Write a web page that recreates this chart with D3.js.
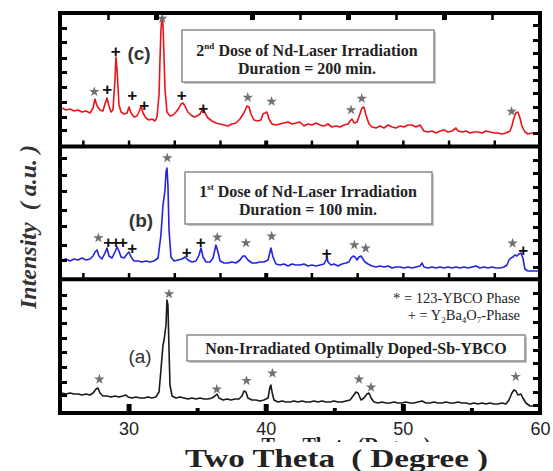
<!DOCTYPE html>
<html><head><meta charset="utf-8">
<script src="https://cdn.jsdelivr.net/npm/d3@7"></script>
<style>html,body{margin:0;padding:0;background:#fff;}svg{display:block;}</style>
</head><body>
<svg id="c" width="553" height="471"></svg>
<script>
// ---------- DATA ----------
const xTicks = [30, 40, 50, 60];
const xMinorTicks = [35, 45, 55];

// (c) 2nd dose, 200 min (red)
const redTheta = [25.15,25.44,25.73,26.02,26.31,26.60,26.90,27.19,27.41,27.55,27.70,27.92,28.13,28.28,28.43,28.57,28.72,28.86,29.01,29.08,29.16,29.30,29.45,29.67,29.89,30.03,30.18,30.40,30.61,30.76,30.91,31.05,31.27,31.49,31.71,31.93,32.07,32.22,32.29,32.36,32.44,32.51,32.58,32.66,32.80,33.02,33.24,33.46,33.68,33.82,33.97,34.11,34.33,34.55,34.77,34.99,35.21,35.43,35.57,35.79,36.08,36.37,36.67,36.96,37.25,37.54,37.83,38.12,38.41,38.63,38.78,38.92,39.14,39.43,39.65,39.80,39.95,40.09,40.24,40.46,40.75,41.04,41.33,41.63,41.92,42.21,42.50,42.79,43.08,43.37,43.67,43.96,44.25,44.54,44.83,45.12,45.42,45.71,46.00,46.15,46.29,46.44,46.66,46.87,47.02,47.16,47.31,47.53,47.75,48.04,48.33,48.62,48.92,49.21,49.50,49.79,50.08,50.37,50.66,50.96,51.25,51.54,51.83,52.12,52.41,52.71,53.00,53.29,53.58,53.87,54.02,54.31,54.60,54.89,55.18,55.48,55.77,56.06,56.35,56.64,56.93,57.23,57.52,57.81,57.95,58.10,58.24,58.39,58.54,58.68,58.90,59.12,59.41,59.71,60.00];
const redI = [38.5,36.5,37.5,35.5,36.5,34.5,35.5,33.5,38.5,47.5,40.5,36.5,35.5,42.5,48.5,40.5,34.5,36.5,66.5,89.5,76.5,41.5,34.5,32.5,33.5,39.5,33.5,29.5,30.5,34.5,40.5,33.5,28.5,26.5,27.5,25.5,29.5,51.5,86.5,116.5,129.5,121.5,91.5,56.5,34.5,30.5,31.5,34.5,38.5,42.5,43.5,40.5,34.5,31.5,29.5,30.5,32.5,38.5,33.5,28.5,25.5,23.5,22.5,21.5,20.5,22.5,23.5,27.5,33.5,40.5,39.5,32.5,26.5,25.5,26.5,32.5,33.5,34.5,27.5,22.5,21.5,22.5,23.5,24.5,22.5,23.5,24.5,20.5,22.5,21.5,23.5,21.5,20.5,22.5,19.5,20.5,19.5,21.5,22.5,25.5,27.5,23.5,24.5,32.5,38.5,39.5,31.5,22.5,19.5,18.5,20.5,18.5,21.5,19.5,18.5,20.5,19.5,21.5,21.5,19.5,21.5,15.5,14.5,15.5,13.5,15.5,16.5,14.5,15.5,18.5,15.5,14.5,15.5,13.5,14.5,14.5,13.5,15.5,14.5,13.5,13.5,12.5,13.5,15.5,20.5,28.5,33.5,34.5,28.5,20.5,14.5,12.5,13.5,12.5,13.5];

// (b) 1st dose, 100 min (blue)
const blueTheta = [25.15,25.44,25.73,26.02,26.31,26.60,26.90,27.19,27.41,27.55,27.70,27.84,28.06,28.28,28.43,28.57,28.79,29.01,29.16,29.30,29.45,29.67,29.89,30.03,30.18,30.40,30.69,30.98,31.27,31.56,31.85,32.15,32.36,32.51,32.58,32.66,32.73,32.80,32.87,32.95,33.09,33.31,33.60,33.90,34.11,34.33,34.62,34.92,35.14,35.28,35.43,35.65,35.94,36.16,36.37,36.52,36.67,36.96,37.25,37.54,37.83,38.12,38.34,38.48,38.70,39.00,39.29,39.58,39.87,40.17,40.31,40.38,40.53,40.75,41.04,41.33,41.63,41.92,42.21,42.50,42.79,43.08,43.37,43.67,43.96,44.25,44.40,44.47,44.54,44.76,44.98,45.27,45.56,45.85,46.07,46.22,46.37,46.51,46.66,46.80,46.95,47.09,47.24,47.46,47.75,48.04,48.33,48.62,48.92,49.21,49.50,49.79,50.08,50.37,50.66,50.96,51.25,51.40,51.54,51.83,52.12,52.41,52.71,53.00,53.29,53.58,53.87,54.17,54.46,54.75,55.04,55.33,55.62,55.92,56.21,56.50,56.79,57.08,57.37,57.59,57.74,57.88,58.03,58.17,58.32,58.46,58.61,58.75,58.90,59.12,59.41,59.71,60.00];
const blueI = [19,20,18,20,19,21,19,20,23,27,29,23,20,26,31,23,21,27,32,28,22,21,25,27,22,18,18,17,18,17,18,21,44,74,81,89,107,111,94,49,22,18,19,20,22,19,17,18,24,31,22,17,17,21,34,27,18,16,16,17,16,19,23,23,19,16,16,17,17,19,27,31,22,15,14,15,13,15,14,14,15,13,14,13,14,15,19,22,17,14,15,13,15,16,17,21,23,22,19,22,23,20,17,15,13,12,13,12,13,11,12,12,11,12,11,12,13,16,12,11,12,11,12,11,12,11,12,11,12,11,12,13,11,12,11,12,11,11,12,14,19,21,22,24,23,25,26,21,10,8,8,8,8];

// (a) non-irradiated (black)
const blackTheta = [25.15,25.44,25.73,26.02,26.31,26.60,26.90,27.19,27.41,27.63,27.77,27.92,28.13,28.43,28.72,29.01,29.30,29.59,29.81,29.96,30.25,30.54,30.83,31.12,31.42,31.71,31.99,32.22,32.36,32.51,32.58,32.73,32.80,32.87,32.95,33.02,33.17,33.46,33.75,34.04,34.33,34.62,34.92,35.21,35.50,35.79,36.08,36.30,36.45,36.59,36.89,37.18,37.47,37.76,38.05,38.27,38.41,38.56,38.70,39.00,39.29,39.58,39.87,40.17,40.31,40.38,40.46,40.60,40.90,41.19,41.48,41.77,42.06,42.35,42.65,42.94,43.23,43.52,43.81,44.10,44.40,44.69,44.98,45.27,45.56,45.85,46.15,46.37,46.58,46.73,46.95,47.16,47.38,47.53,47.68,47.90,48.19,48.48,48.77,49.06,49.35,49.65,49.94,50.23,50.52,50.81,51.10,51.40,51.69,51.98,52.27,52.56,52.85,53.15,53.44,53.73,54.02,54.31,54.60,54.89,55.18,55.48,55.77,56.06,56.35,56.64,56.93,57.23,57.52,57.74,57.95,58.10,58.24,58.39,58.61,58.75,58.97,59.27,59.63,60.00];
const blackI = [20,19,20,19,19,18,19,18,20,24,25,20,17,17,16,17,16,17,18,16,15,16,15,15,16,15,16,21,43,68,72,88,113,108,63,28,17,15,16,15,14,15,14,15,14,14,15,17,19,15,13,14,13,14,14,17,22,21,15,13,13,12,13,15,26,28,21,13,11,12,11,11,12,11,12,11,11,12,11,12,11,11,12,11,11,12,13,17,21,20,13,15,19,20,15,11,10,11,10,10,11,10,10,11,10,10,11,12,10,10,11,10,10,11,10,10,11,10,10,9,10,9,10,9,10,9,9,10,9,13,20,23,22,18,19,15,10,7,7,8];

// phase markers: [2theta, intensity]
const redStars  = [[27.5,54.8],[32.46,128],[38.69,49],[40.43,45],[46.22,36.5],[47.0,48],[57.93,35]];
const redPlus   = [[28.45,58],[29.06,96],[30.27,51.5],[31.15,41.5],[33.87,51.5],[35.45,39]];
const blueStars = [[27.8,41],[32.82,121],[36.47,41.7],[38.56,36],[40.43,42.7],[46.46,34],[47.29,30.7],[58.0,35.7]];
const bluePlus  = [[28.52,36.7],[29.08,36.7],[29.6,36.7],[30.27,31],[34.24,26.7],[35.26,36.7],[44.45,26.3],[58.78,29]];
const blackStars= [[27.87,33.7],[32.95,119],[36.43,23.7],[38.6,32.3],[40.49,39.7],[46.8,33.7],[47.68,25.7],[58.23,36.3]];
const blackPlus = [];

// frame tick positions (arbitrary units of each panel)
const topTopTicks = [28.5, 32, 39, 42.5, 46, 49.5, 53, 56.5];
const innerTicks = [80/3, 30, 100/3, 110/3, 40, 130/3, 140/3, 50, 160/3, 170/3];
const leftTicksC = [16.5, 29.5, 44.5, 59.5, 74.5, 88.5, 104.5, 118.5];
const rightTicksC = [13.5, 26.5, 39.5, 53.5, 66.5, 79.5, 93.5, 106.5, 121.5];
const leftTicksB = [19, 34, 53, 69, 88, 104, 121];
const rightTicksB = [12, 26, 39, 52, 66, 79, 92, 106, 119];
const leftTicksA = [18, 31, 46, 61, 75, 90, 105, 118];
const rightTicksA = [8, 21, 35, 50, 63, 76, 91, 105, 120];

// ---------- DRAW ----------
const svg = d3.select("#c");
const x = d3.scaleLinear().domain([25, 60]).range([60, 540]);
const panels = [
  {top: 13, bottom: 146.5, theta: redTheta, I: redI, color: "#e8131b", stars: redStars, plus: redPlus, lt: leftTicksC, rt: rightTicksC},
  {top: 146.5, bottom: 279, theta: blueTheta, I: blueI, color: "#2222e2", stars: blueStars, plus: bluePlus, lt: leftTicksB, rt: rightTicksB},
  {top: 279.5, bottom: 413, theta: blackTheta, I: blackI, color: "#1a1a1a", stars: blackStars, plus: blackPlus, lt: leftTicksA, rt: rightTicksA}
];

// ghost (old) axis title, mostly hidden
svg.append("defs").append("clipPath").attr("id","ghost")
  .append("rect").attr("x",0).attr("y",437).attr("width",553).attr("height",5);
svg.append("text").attr("clip-path","url(#ghost)")
  .attr("x", 346).attr("y", 452).attr("text-anchor","middle")
  .attr("font-family","Liberation Serif").attr("font-weight","bold").attr("font-size",20)
  .attr("fill","#222").text("Two Theta (Degree)");

panels.forEach(p => {
  const y = d3.scaleLinear().domain([0, p.bottom - p.top]).range([p.bottom, p.top]);
  const line = d3.line().x((d,i) => x(p.theta[i])).y((d,i) => y(p.I[i]));
  svg.append("path").datum(p.I).attr("d", line)
    .attr("fill","none").attr("stroke", p.color).attr("stroke-width", 1.6).attr("stroke-linejoin","round");
  svg.append("g").attr("transform", `translate(60,0)`)
    .call(d3.axisLeft(y).tickValues(p.lt).tickSize(-7).tickFormat(""))
    .call(g => g.select(".domain").remove())
    .selectAll("line").attr("stroke-width", 3);
  svg.append("g").attr("transform", `translate(540,0)`)
    .call(d3.axisRight(y).tickValues(p.rt).tickSize(-7).tickFormat(""))
    .call(g => g.select(".domain").remove())
    .selectAll("line").attr("stroke-width", 3);
  svg.append("g").selectAll("path").data(p.stars).join("path")
    .attr("transform", d => `translate(${x(d[0])},${y(d[1])})`)
    .attr("d", d3.symbol(d3.symbolStar, 34)()).attr("fill","#707070");
  svg.append("g").selectAll("text").data(p.plus).join("text")
    .attr("x", d => x(d[0])).attr("y", d => y(d[1]) + 6)
    .attr("text-anchor","middle").attr("font-family","Liberation Sans").attr("font-weight","bold")
    .attr("font-size", 17).attr("fill","#111").text("+");
});

[146.5, 279].forEach(b => {
  svg.append("g").attr("transform", `translate(0,${b})`)
    .call(d3.axisBottom(x).tickValues(innerTicks).tickSize(-6).tickFormat(""))
    .call(g => g.select(".domain").remove())
    .selectAll("line").attr("stroke-width", d => d === 40 ? 4 : 2.5);
});
svg.append("g").attr("transform", `translate(0,13)`)
  .call(d3.axisTop(x).tickValues(topTopTicks).tickSize(-7).tickFormat(""))
  .call(g => g.select(".domain").remove())
  .selectAll("line").attr("stroke-width", d => [32,39,46,53].includes(d) ? 5 : 2.5);

svg.append("g").attr("transform", "translate(0,413)")
  .call(d3.axisBottom(x).tickValues([30,40,50]).tickSize(-9).tickFormat(""))
  .call(g => g.select(".domain").remove())
  .selectAll("line").attr("stroke-width", 5);
svg.append("g").attr("transform", "translate(0,413)")
  .call(d3.axisBottom(x).tickValues(xMinorTicks).tickSize(-5).tickFormat(""))
  .call(g => g.select(".domain").remove())
  .selectAll("line").attr("stroke-width", 4);
const xa = svg.append("g").attr("transform", "translate(0,413)")
  .call(d3.axisBottom(x).tickValues(xTicks).tickSize(0).tickPadding(9).tickFormat(d3.format("d")));
xa.select(".domain").remove();
xa.selectAll("text").attr("font-family","Liberation Sans Narrow, Liberation Sans").attr("font-size",18).attr("fill","#222");

// frame
svg.append("rect").attr("x",60).attr("y",13).attr("width",480).attr("height",400)
  .attr("fill","none").attr("stroke","#000").attr("stroke-width",4);
[146.5, 279.2].forEach(yy => svg.append("line").attr("x1",60).attr("x2",540).attr("y1",yy).attr("y2",yy)
  .attr("stroke","#000").attr("stroke-width",4));

// panel letters
const letters = [["(c)",139,60,"bold"],["(b)",141,227,"bold"],["(a)",140,363,"normal"]];
letters.forEach(l => svg.append("text").attr("x",l[1]).attr("y",l[2]).attr("text-anchor","middle")
  .attr("font-family","Liberation Sans").attr("font-weight",l[3]).attr("font-size",19).attr("fill","#333").text(l[0]));

// boxes
function box(x0,y0,x1,y1){
  svg.append("rect").attr("x",x0+2).attr("y",y0+2).attr("width",x1-x0).attr("height",y1-y0).attr("fill","#c8c8c8");
  svg.append("rect").attr("x",x0).attr("y",y0).attr("width",x1-x0).attr("height",y1-y0)
    .attr("fill","#fff").attr("stroke","#8a8a8a").attr("stroke-width",1.5);
}
function doseText(cx, yb1, yb2, num, sup, dur){
  const t = svg.append("text").attr("x",cx).attr("y",yb1).attr("text-anchor","middle")
    .attr("font-family","Liberation Serif").attr("font-weight","bold").attr("font-size",16).attr("fill","#222");
  t.append("tspan").text(num);
  t.append("tspan").attr("font-size",9).attr("dy",-7).text(sup);
  t.append("tspan").attr("dy",7).text(" Dose of Nd-Laser Irradiation");
  svg.append("text").attr("x",cx).attr("y",yb2).attr("text-anchor","middle")
    .attr("font-family","Liberation Serif").attr("font-weight","bold").attr("font-size",16).attr("fill","#222")
    .text("Duration = " + dur + " min.");
}
box(182,30,434,82);
doseText(307,56,74,"2","nd","200");
box(185,172,432,224);
doseText(308,197,215,"1","st","100");
box(187,335,525,361);
svg.append("text").attr("x",356).attr("y",354).attr("text-anchor","middle")
  .attr("font-family","Liberation Serif").attr("font-weight","bold").attr("font-size",16).attr("fill","#222")
  .text("Non-Irradiated Optimally Doped-Sb-YBCO");

// legend
svg.append("text").attr("x",520).attr("y",303).attr("text-anchor","end")
  .attr("font-family","Liberation Serif").attr("font-size",14.5).attr("fill","#222")
  .text("* = 123-YBCO Phase");
const l2 = svg.append("text").attr("x",520).attr("y",320).attr("text-anchor","end")
  .attr("font-family","Liberation Serif").attr("font-size",14.5).attr("fill","#222");
l2.append("tspan").text("+ = Y");
l2.append("tspan").attr("font-size",9).attr("dy",3).text("2");
l2.append("tspan").attr("dy",-3).text("Ba");
l2.append("tspan").attr("font-size",9).attr("dy",3).text("4");
l2.append("tspan").attr("dy",-3).text("O");
l2.append("tspan").attr("font-size",9).attr("dy",3).text("7");
l2.append("tspan").attr("dy",-3).text("-Phase");

// axis titles
svg.append("rect").attr("x",150).attr("y",442).attr("width",380).attr("height",29).attr("fill","#fff");
svg.append("text").attr("x",185).attr("y",467)
  .attr("font-family","Liberation Serif").attr("font-weight","bold").attr("font-size",25).attr("fill","#222")
  .attr("textLength",303).attr("lengthAdjust","spacingAndGlyphs")
  .attr("xml:space","preserve").text("Two Theta  ( Degree )");
svg.append("text").attr("transform","translate(36,227) rotate(-90)").attr("text-anchor","middle")
  .attr("font-family","Liberation Serif").attr("font-weight","bold").attr("font-style","italic")
  .attr("font-size",24).attr("fill","#333").attr("xml:space","preserve").text("Intensity  ( a.u. )");
</script>
</body></html>
